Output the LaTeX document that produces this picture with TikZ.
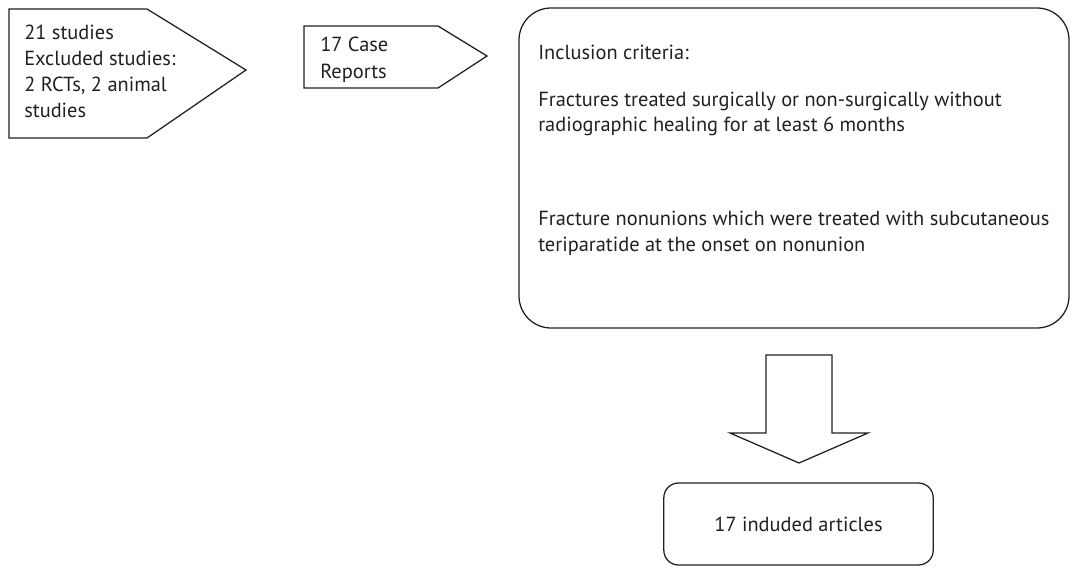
\documentclass[tikz,border=0pt]{standalone}
\usepackage{fontspec}
\setmainfont{PT Sans}
\usetikzlibrary{positioning}

\definecolor{inkgray}{HTML}{231F20}

\tikzset{
  lbl/.style={align=left, inner sep=0pt, anchor=north west, text=inkgray,
    font=\fontsize{15.3}{19.5}\selectfont},
  outline/.style={draw=inkgray, line width=0.95pt},
  critbox/.style={outline, rounded corners=24pt, minimum width=412.5pt,
    minimum height=240pt, inner sep=0pt},
  resbox/.style={outline, rounded corners=11pt, minimum width=202pt,
    minimum height=61.5pt, text=inkgray, font=\fontsize{15.3}{18}\selectfont},
}

\begin{document}
\begin{tikzpicture}[x=0.75pt, y=-0.75pt]
  \useasboundingbox (0,0) rectangle (1070,567);

  % Pfeil-Boxen
  \draw[outline] (9,9) -- (147,9) -- (246,70) -- (147,138) -- (9,138) -- cycle;
  \draw[outline] (304,26) -- (438,26) -- (487,56) -- (438,88) -- (304,88) -- cycle;

  \node[lbl] (studies) at (24,25) {21 studies\\Excluded studies:\\2 RCTs, 2 animal\\studies};
  \node[lbl, font=\fontsize{15.3}{20}\selectfont] (cases) at (320,37) {17 Case\\Reports};

  % Einschlusskriterien
  \node[critbox] (crit) at (794,168) {};
  \node[lbl] (incl) at (538,45) {Inclusion criteria:};
  \node[lbl, font=\fontsize{15.3}{18.75}\selectfont] (frac) at (538,92)
    {Fractures treated surgically or non-surgically without\\radiographic healing for at least 6 months};
  \node[lbl, font=\fontsize{15.3}{19.5}\selectfont] (nonu) at (538,211)
    {Fracture nonunions which were treated with subcutaneous\\teriparatide at the onset on nonunion};

  % Pfeil nach unten
  \draw[outline] (766,355) -- (832,355) -- (832,433) -- (868,433) -- (799,463)
    -- (730,433) -- (766,433) -- cycle;

  % Ergebnis
  \node[resbox] (result) at (798.5,524) {17 induded articles};

\end{tikzpicture}
\end{document}
